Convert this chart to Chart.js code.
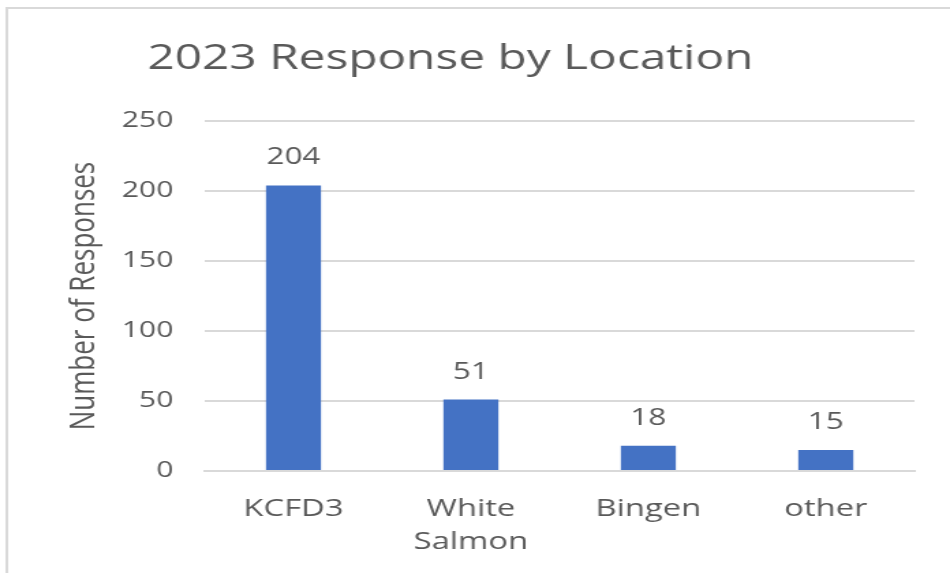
<!DOCTYPE html>
<html><head><meta charset="utf-8">
<script src="https://cdn.jsdelivr.net/npm/chart.js@4.4.1/dist/chart.umd.min.js"></script>
<style>
html,body{margin:0;padding:0;background:#fff;overflow:hidden}
#c{display:block;width:950px !important;height:573px !important}
</style></head>
<body><canvas id="c" width="696" height="573" style="width:950px;height:573px"></canvas>
<script>
// ---- data ----
const categories = ['KCFD3', ['White', 'Salmon'], 'Bingen', 'other'];
const responses = [204, 51, 18, 15];
const yTicks = [0, 50, 100, 150, 200, 250];
const chartTitle = '2023 Response by Location';
const yAxisTitle = 'Number of Responses';

const TEXT = '#595959';
const GRID = '#d9d9d9';
const FONT = '"Open Sans", "Liberation Sans", sans-serif';

const framePlugin = {
  id: 'frame',
  beforeDraw(chart) {
    const ctx = chart.ctx;
    ctx.save();
    ctx.strokeStyle = GRID;
    ctx.lineWidth = 2;
    ctx.beginPath();
    ctx.moveTo(chart.width + 5, 8);
    ctx.lineTo(5, 8);
    ctx.lineTo(5, chart.height + 5);
    ctx.stroke();
    ctx.restore();
  }
};

const titlePlugin = {
  id: 'customTitle',
  afterDraw(chart) {
    const ctx = chart.ctx;
    ctx.save();
    ctx.font = '35px ' + FONT;
    ctx.fillStyle = TEXT;
    ctx.textAlign = 'center';
    ctx.textBaseline = 'alphabetic';
    ctx.fillText(chartTitle, 330, 69);
    ctx.restore();
  }
};

const valueLabels = {
  id: 'valueLabels',
  afterDatasetsDraw(chart) {
    const ctx = chart.ctx;
    const meta = chart.getDatasetMeta(0);
    const data = chart.data.datasets[0].data;
    ctx.save();
    ctx.font = '23px ' + FONT;
    ctx.fillStyle = TEXT;
    ctx.textAlign = 'center';
    ctx.textBaseline = 'alphabetic';
    meta.data.forEach((bar, i) => {
      ctx.fillText(String(data[i]), bar.x, bar.y - 21);
    });
    ctx.restore();
  }
};

new Chart(document.getElementById('c'), {
  type: 'bar',
  data: {
    labels: categories,
    datasets: [{
      data: responses,
      backgroundColor: '#4472C4',
      borderWidth: 0,
      categoryPercentage: 1,
      barPercentage: 0.31
    }]
  },
  options: {
    responsive: false,
    animation: false,
    devicePixelRatio: 1,
    layout: { padding: { top: 121, right: 26, bottom: 0, left: 0 } },
    plugins: {
      legend: { display: false },
      title: { display: false },
      tooltip: { enabled: false }
    },
    scales: {
      x: {
        afterFit(scale) { scale.height = 102; },
        grid: { display: false, drawTicks: false },
        border: { display: true, color: GRID, width: 2 },
        ticks: {
          color: TEXT,
          padding: 21,
          maxRotation: 0,
          autoSkip: false,
          font: { family: FONT, size: 24, lineHeight: 1.4 }
        }
      },
      y: {
        min: yTicks[0],
        max: yTicks[yTicks.length - 1],
        afterFit(scale) { scale.width = 150; },
        afterBuildTicks(scale) { scale.ticks = yTicks.map(v => ({ value: v })); },
        grid: { color: GRID, lineWidth: 2, drawTicks: false },
        border: { display: false },
        ticks: {
          color: TEXT,
          padding: 23,
          font: { family: FONT, size: 22 }
        },
        title: {
          display: true,
          text: yAxisTitle,
          color: TEXT,
          padding: { top: 46, bottom: 0 },
          font: { family: FONT, size: 26, lineHeight: 1.2 }
        }
      }
    }
  },
  plugins: [framePlugin, titlePlugin, valueLabels]
});
</script>
</body></html>
